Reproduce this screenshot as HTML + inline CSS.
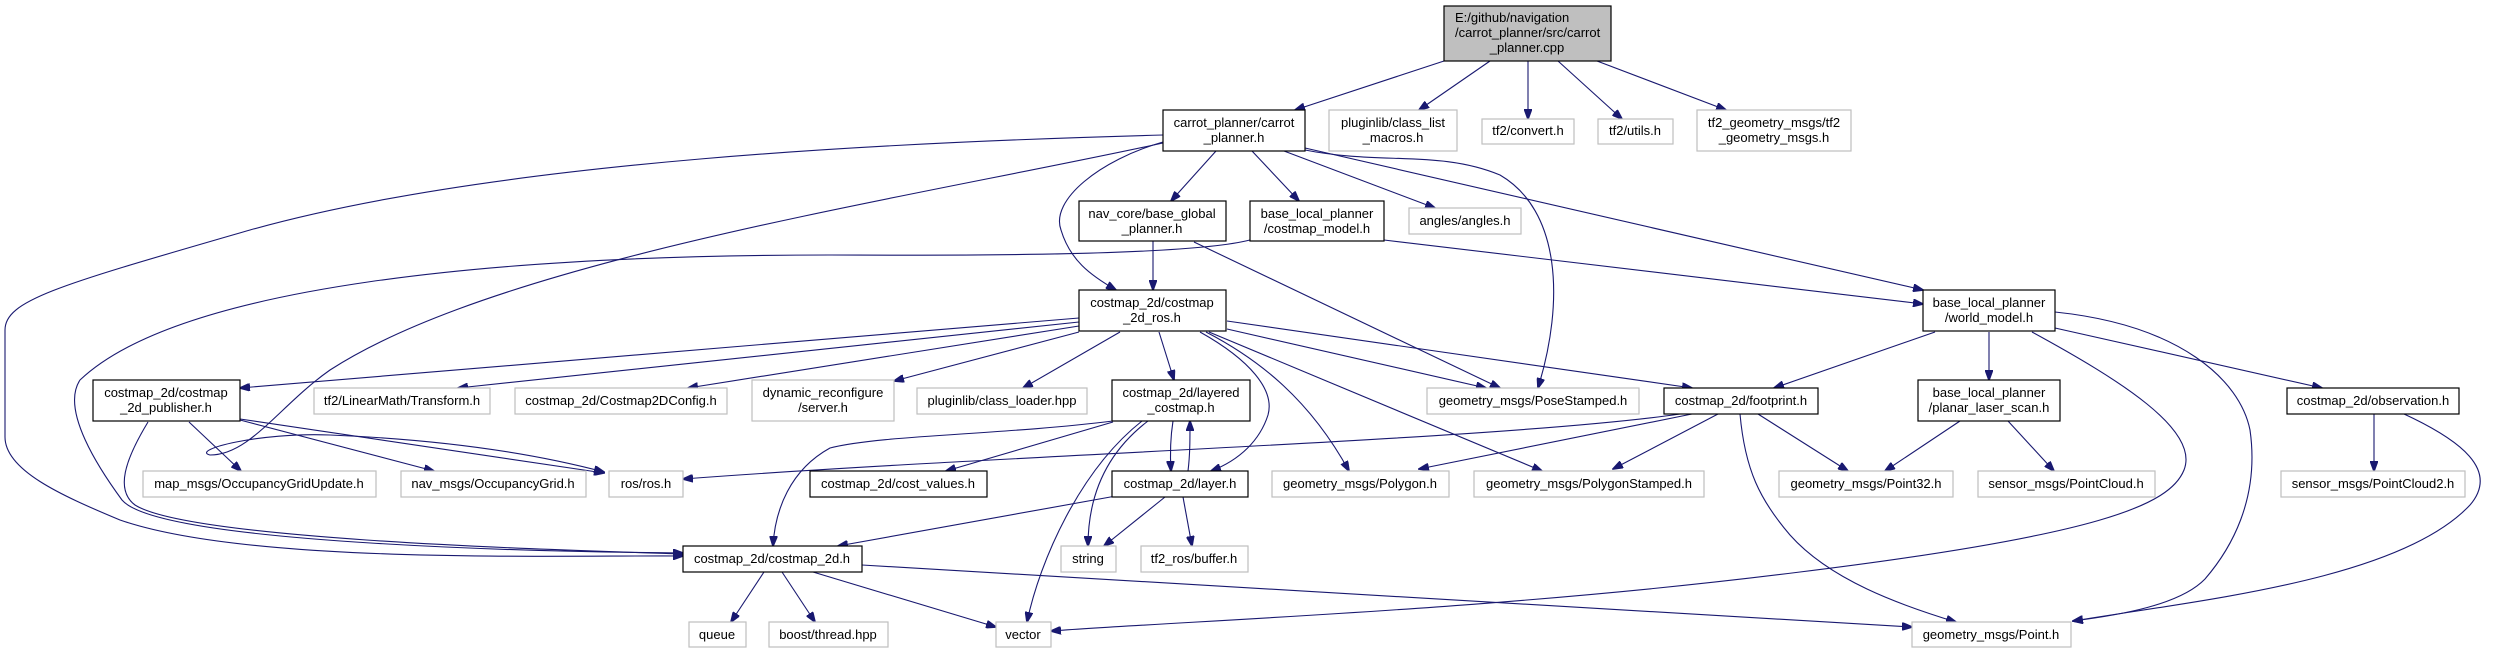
<!DOCTYPE html>
<html><head><meta charset="utf-8"><style>
html,body{margin:0;padding:0;background:#fff;}
svg{display:block;}
text{font-family:"Liberation Sans",sans-serif;font-size:13px;fill:#000;}
.e{fill:none;stroke:#191970;stroke-width:1.1;}
.g{fill:#fff;stroke:#bfbfbf;stroke-width:1.2;}
.b{fill:#fff;stroke:#000;stroke-width:1.2;}
.r{fill:#bfbfbf;stroke:#000;stroke-width:1.2;}
</style></head><body>
<svg width="2493" height="648" viewBox="0 0 2493 648" xmlns="http://www.w3.org/2000/svg">
<defs><marker id="a" markerWidth="11" markerHeight="8" refX="10" refY="4" orient="auto" markerUnits="userSpaceOnUse"><path d="M0,0 L11,4 L0,8 z" fill="#191970" stroke="#191970"/></marker></defs>
<g class="e" marker-end="url(#a)">
<path d="M1444,61 L1295,110"/>
<path d="M1490,61 L1419,110"/>
<path d="M1528,61 L1528,119"/>
<path d="M1558,61 L1622,119"/>
<path d="M1597,61 L1726,110"/>
<path d="M1216,151 L1171,201"/>
<path d="M1252,151 L1299,201"/>
<path d="M1284,151 L1435,208"/>
<path d="M1305,150 C1380,165 1440,150 1500,175 C1560,210 1565,300 1538,388"/>
<path d="M1305,148 L1923,290"/>
<path d="M1163,142 C1100,160 1050,200 1061,230 C1070,260 1090,275 1116,290"/>
<path d="M1163,135 C900,142 500,160 250,230 C60,285 5,300 5,330 L5,437 C5,470 60,495 120,520 C250,565 560,555 683,556"/>
<path d="M1163,143 C900,200 500,260 330,370 C280,405 250,455 210,455 C190,450 260,432 330,435 C450,440 540,455 604,472"/>
<path d="M1250,240 C1180,258 900,255 830,255 C500,255 180,285 80,380 C60,410 100,470 122,500 C160,545 560,552 683,553"/>
<path d="M1384,240 L1923,304"/>
<path d="M1153,241 L1153,290"/>
<path d="M1194,242 L1500,388"/>
<path d="M1079,318 L240,388"/>
<path d="M1079,322 L458,388"/>
<path d="M1079,326 L688,388"/>
<path d="M1079,332 L894,381"/>
<path d="M1120,332 L1023,388"/>
<path d="M1159,332 L1174,380"/>
<path d="M1200,332 C1250,360 1275,390 1268,415 C1260,440 1240,460 1211,471"/>
<path d="M1206,332 C1260,360 1310,400 1349,471"/>
<path d="M1209,332 L1542,471"/>
<path d="M1227,329 L1486,388"/>
<path d="M1227,321 L1692,388"/>
<path d="M1680,414 C1500,440 1000,455 683,479"/>
<path d="M1692,414 L1419,469"/>
<path d="M1718,414 L1613,469"/>
<path d="M1758,414 L1848,471"/>
<path d="M1740,414 C1745,470 1760,500 1790,535 C1830,580 1900,605 1956,622"/>
<path d="M1935,332 L1774,388"/>
<path d="M1989,332 L1989,380"/>
<path d="M2055,328 L2322,388"/>
<path d="M2032,332 C2120,380 2200,430 2184,470 C2170,505 2100,535 1800,572 C1500,610 1200,620 1051,631"/>
<path d="M2055,312 C2180,325 2240,380 2250,430 C2260,500 2230,550 2205,579 C2180,605 2120,615 2073,621"/>
<path d="M1960,421 L1885,471"/>
<path d="M2008,421 L2054,471"/>
<path d="M2374,414 L2374,471"/>
<path d="M2404,414 C2460,440 2500,470 2470,505 C2400,580 2200,600 2073,621"/>
<path d="M1113,422 L946,471"/>
<path d="M1113,421 C1000,435 880,435 830,448 C790,470 775,510 773,546"/>
<path d="M1173,421 C1170,440 1170,455 1171,471"/>
<path d="M1188,471 C1190,455 1190,440 1190,421"/>
<path d="M1148,421 C1110,450 1088,490 1088,546"/>
<path d="M1142,421 C1080,470 1040,560 1027,622"/>
<path d="M1116,496 L838,546"/>
<path d="M1165,497 L1104,546"/>
<path d="M1183,497 L1192,546"/>
<path d="M764,572 L731,622"/>
<path d="M782,572 L815,622"/>
<path d="M813,572 L996,627"/>
<path d="M862,565 L1912,627"/>
<path d="M189,422 L241,471"/>
<path d="M240,420 L434,471"/>
<path d="M240,419 L604,473"/>
<path d="M148,422 C125,460 115,490 135,505 C190,540 560,550 683,554"/>
</g>
<g>
<rect class="r" x="1444" y="6" width="167" height="55"/>
<text x="1455" y="22">E:/github/navigation</text><text x="1455" y="37">/carrot_planner/src/carrot</text><text x="1527" y="52" text-anchor="middle">_planner.cpp</text>
<rect class="b" x="1163" y="110" width="142" height="41"/><text x="1234" y="127" text-anchor="middle">carrot_planner/carrot</text><text x="1234" y="142" text-anchor="middle">_planner.h</text>
<rect class="g" x="1329" y="110" width="128" height="41"/><text x="1393" y="127" text-anchor="middle">pluginlib/class_list</text><text x="1393" y="142" text-anchor="middle">_macros.h</text>
<rect class="g" x="1482" y="119" width="92" height="25"/><text x="1528" y="135" text-anchor="middle">tf2/convert.h</text>
<rect class="g" x="1598" y="119" width="75" height="25"/><text x="1635" y="135" text-anchor="middle">tf2/utils.h</text>
<rect class="g" x="1697" y="110" width="154" height="41"/><text x="1774" y="127" text-anchor="middle">tf2_geometry_msgs/tf2</text><text x="1774" y="142" text-anchor="middle">_geometry_msgs.h</text>
<rect class="b" x="1079" y="201" width="147" height="40"/><text x="1152" y="218" text-anchor="middle">nav_core/base_global</text><text x="1152" y="233" text-anchor="middle">_planner.h</text>
<rect class="b" x="1250" y="201" width="134" height="40"/><text x="1317" y="218" text-anchor="middle">base_local_planner</text><text x="1317" y="233" text-anchor="middle">/costmap_model.h</text>
<rect class="g" x="1409" y="208" width="112" height="26"/><text x="1465" y="225" text-anchor="middle">angles/angles.h</text>
<rect class="b" x="1079" y="290" width="147" height="41"/><text x="1152" y="307" text-anchor="middle">costmap_2d/costmap</text><text x="1152" y="322" text-anchor="middle">_2d_ros.h</text>
<rect class="b" x="1923" y="290" width="132" height="41"/><text x="1989" y="307" text-anchor="middle">base_local_planner</text><text x="1989" y="322" text-anchor="middle">/world_model.h</text>
<rect class="b" x="93" y="380" width="147" height="41"/><text x="166" y="397" text-anchor="middle">costmap_2d/costmap</text><text x="166" y="412" text-anchor="middle">_2d_publisher.h</text>
<rect class="g" x="314" y="388" width="176" height="26"/><text x="402" y="405" text-anchor="middle">tf2/LinearMath/Transform.h</text>
<rect class="g" x="515" y="388" width="212" height="26"/><text x="621" y="405" text-anchor="middle">costmap_2d/Costmap2DConfig.h</text>
<rect class="g" x="752" y="380" width="142" height="41"/><text x="823" y="397" text-anchor="middle">dynamic_reconfigure</text><text x="823" y="412" text-anchor="middle">/server.h</text>
<rect class="g" x="917" y="388" width="170" height="26"/><text x="1002" y="405" text-anchor="middle">pluginlib/class_loader.hpp</text>
<rect class="b" x="1112" y="380" width="138" height="41"/><text x="1181" y="397" text-anchor="middle">costmap_2d/layered</text><text x="1181" y="412" text-anchor="middle">_costmap.h</text>
<rect class="g" x="1427" y="388" width="212" height="26"/><text x="1533" y="405" text-anchor="middle">geometry_msgs/PoseStamped.h</text>
<rect class="b" x="1664" y="388" width="154" height="26"/><text x="1741" y="405" text-anchor="middle">costmap_2d/footprint.h</text>
<rect class="b" x="1918" y="380" width="142" height="41"/><text x="1989" y="397" text-anchor="middle">base_local_planner</text><text x="1989" y="412" text-anchor="middle">/planar_laser_scan.h</text>
<rect class="b" x="2287" y="388" width="172" height="26"/><text x="2373" y="405" text-anchor="middle">costmap_2d/observation.h</text>
<rect class="g" x="143" y="471" width="233" height="26"/><text x="259" y="488" text-anchor="middle">map_msgs/OccupancyGridUpdate.h</text>
<rect class="g" x="401" y="471" width="185" height="26"/><text x="493" y="488" text-anchor="middle">nav_msgs/OccupancyGrid.h</text>
<rect class="g" x="609" y="471" width="74" height="26"/><text x="646" y="488" text-anchor="middle">ros/ros.h</text>
<rect class="b" x="810" y="471" width="177" height="26"/><text x="898" y="488" text-anchor="middle">costmap_2d/cost_values.h</text>
<rect class="b" x="1112" y="471" width="136" height="26"/><text x="1180" y="488" text-anchor="middle">costmap_2d/layer.h</text>
<rect class="g" x="1272" y="471" width="177" height="26"/><text x="1360" y="488" text-anchor="middle">geometry_msgs/Polygon.h</text>
<rect class="g" x="1474" y="471" width="230" height="26"/><text x="1589" y="488" text-anchor="middle">geometry_msgs/PolygonStamped.h</text>
<rect class="g" x="1779" y="471" width="174" height="26"/><text x="1866" y="488" text-anchor="middle">geometry_msgs/Point32.h</text>
<rect class="g" x="1978" y="471" width="177" height="26"/><text x="2066" y="488" text-anchor="middle">sensor_msgs/PointCloud.h</text>
<rect class="g" x="2281" y="471" width="184" height="26"/><text x="2373" y="488" text-anchor="middle">sensor_msgs/PointCloud2.h</text>
<rect class="b" x="683" y="546" width="179" height="26"/><text x="772" y="563" text-anchor="middle">costmap_2d/costmap_2d.h</text>
<rect class="g" x="1061" y="546" width="55" height="26"/><text x="1088" y="563" text-anchor="middle">string</text>
<rect class="g" x="1141" y="546" width="107" height="26"/><text x="1194" y="563" text-anchor="middle">tf2_ros/buffer.h</text>
<rect class="g" x="689" y="622" width="57" height="25"/><text x="717" y="639" text-anchor="middle">queue</text>
<rect class="g" x="769" y="622" width="119" height="25"/><text x="828" y="639" text-anchor="middle">boost/thread.hpp</text>
<rect class="g" x="996" y="622" width="55" height="25"/><text x="1023" y="639" text-anchor="middle">vector</text>
<rect class="g" x="1912" y="622" width="159" height="25"/><text x="1991" y="639" text-anchor="middle">geometry_msgs/Point.h</text>
</g>
</svg>
</body></html>
